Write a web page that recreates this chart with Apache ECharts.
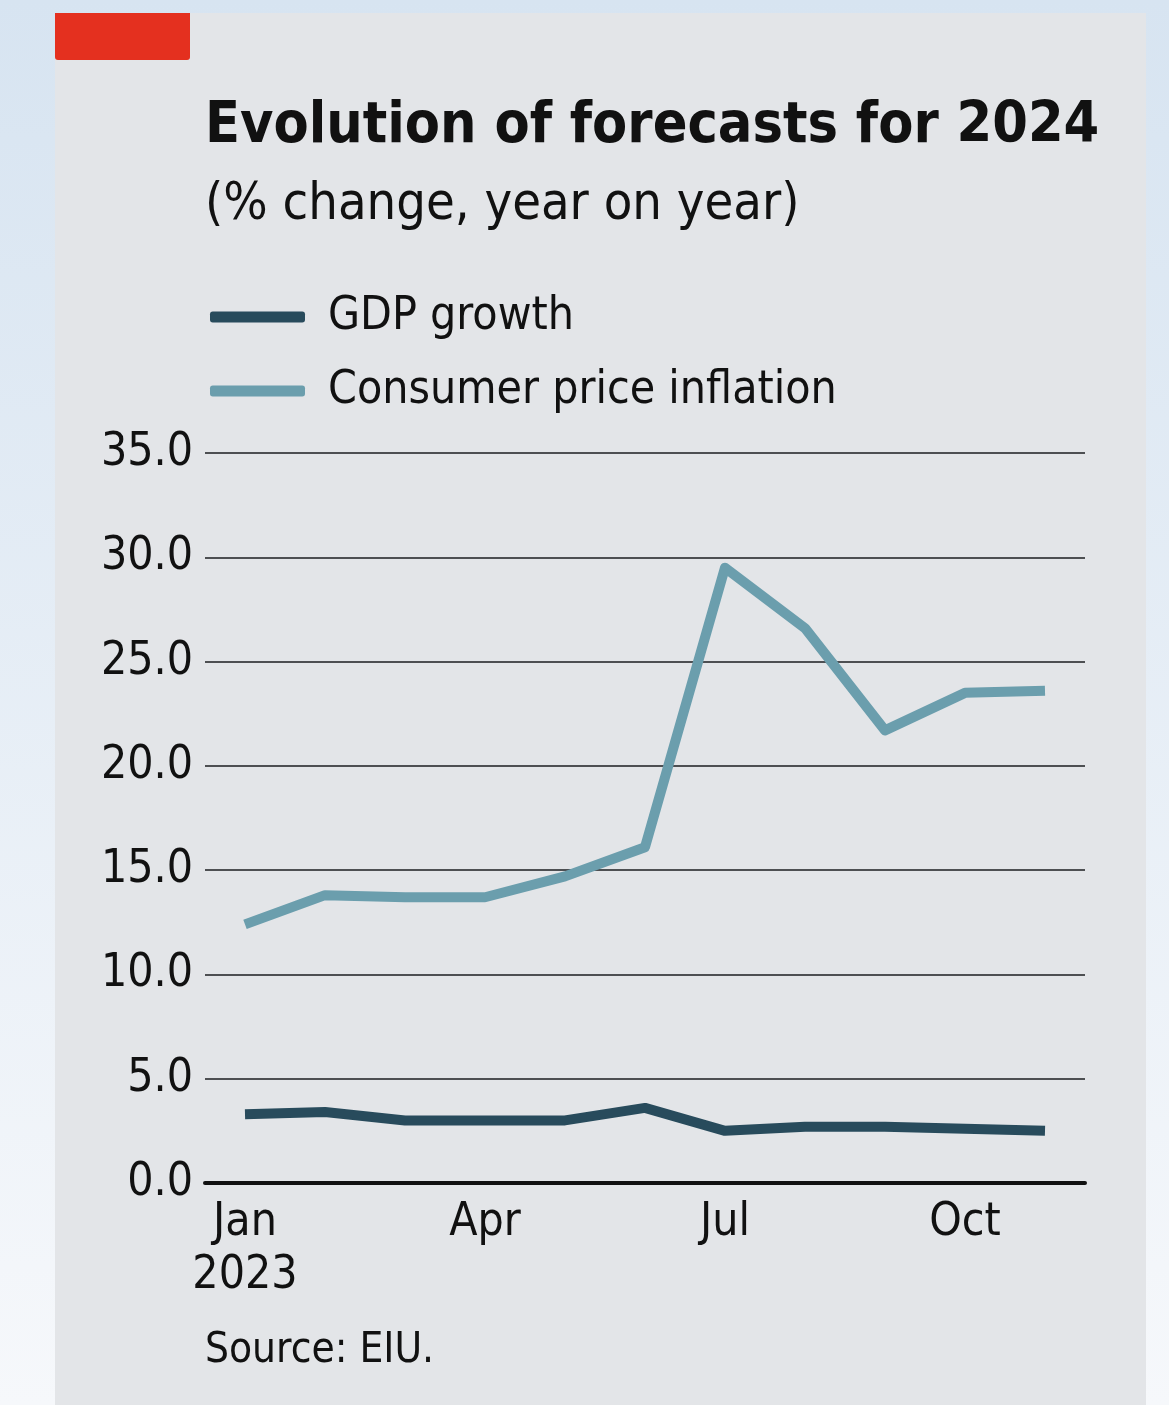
<!DOCTYPE html>
<html>
<head>
<meta charset="utf-8">
<script src="https://cdn.jsdelivr.net/npm/echarts@6/dist/echarts.min.js"></script>
<style>
  html, body { margin: 0; padding: 0; }
  #chart { width: 1169px; height: 1405px; }
</style>
</head>
<body>
<div id="chart"></div>
<script>
// Monthly forecast vintages, Jan-Nov 2023
const months = ['Jan\n2023', 'Feb', 'Mar', 'Apr', 'May', 'Jun', 'Jul', 'Aug', 'Sep', 'Oct', 'Nov'];
const gdpGrowth = [3.3, 3.4, 3.0, 3.0, 3.0, 3.6, 2.5, 2.7, 2.7, 2.6, 2.5];
const consumerPrices = [12.4, 13.8, 13.7, 13.7, 14.7, 16.1, 29.5, 26.6, 21.7, 23.5, 23.6];
const yTicks = [0, 5, 10, 15, 20, 25, 30, 35];

const FONT = '"DejaVu Sans Condensed", "DejaVu Sans", sans-serif';

const chart = echarts.init(document.getElementById('chart'), null, { renderer: 'canvas' });

chart.setOption({
  backgroundColor: 'transparent',
  animation: false,
  graphic: [
    {
      type: 'rect', z: -10, silent: true,
      shape: { x: 0, y: 0, width: 1169, height: 1405 },
      style: {
        fill: new echarts.graphic.LinearGradient(0, 0, 0, 1, [
          { offset: 0, color: '#d7e4f1' },
          { offset: 1, color: '#f6f8fb' }
        ])
      }
    },
    {
      type: 'rect', z: -9, silent: true,
      shape: { x: 55, y: 13, width: 1091, height: 1400 },
      style: { fill: '#e3e5e8' }
    },
    {
      type: 'rect', z: -8, silent: true,
      shape: { x: 55, y: 13, width: 135, height: 47, r: [0, 0, 3, 3] },
      style: { fill: '#e4301f' }
    },
    {
      type: 'text', left: 205, top: 99,
      style: { text: 'Evolution of forecasts for 2024', font: 'bold 57px ' + FONT, fill: '#111' }
    },
    {
      type: 'text', left: 205, top: 179,
      style: { text: '(% change, year on year)', font: '52px ' + FONT, fill: '#111' }
    },
    {
      type: 'text', left: 205, top: 1330,
      style: { text: 'Source: EIU.', font: '42px ' + FONT, fill: '#111' }
    }
  ],
  legend: {
    orient: 'vertical',
    left: 210,
    top: 294,
    padding: 0,
    itemWidth: 95,
    itemHeight: 11,
    itemGap: 28,
    icon: 'roundRect',
    textStyle: {
      fontFamily: FONT,
      fontSize: 46,
      lineHeight: 46,
      color: '#111',
      padding: [0, 0, 0, 18]
    },
    data: ['GDP growth', 'Consumer price inflation']
  },
  grid: { left: 205, right: 84, top: 453, bottom: 222, containLabel: false },
  xAxis: {
    type: 'category',
    data: months,
    boundaryGap: true,
    axisLine: { lineStyle: { color: '#111', width: 4 } },
    axisTick: { show: false },
    axisLabel: {
      interval: 2,
      margin: 14,
      fontFamily: FONT,
      fontSize: 46,
      lineHeight: 53,
      color: '#111'
    },
    splitLine: { show: false }
  },
  yAxis: {
    type: 'value',
    min: yTicks[0],
    max: yTicks[yTicks.length - 1],
    interval: 5,
    axisLine: { show: false },
    axisTick: { show: false },
    axisLabel: {
      margin: 12,
      fontFamily: FONT,
      fontSize: 46,
      color: '#111',
      formatter: v => v.toFixed(1)
    },
    splitLine: { lineStyle: { color: '#4d4f52', width: 2 } }
  },
  series: [
    {
      name: 'GDP growth',
      type: 'line',
      data: gdpGrowth,
      showSymbol: false,
      symbol: 'none',
      color: '#284b5c',
      lineStyle: { width: 10, color: '#284b5c', join: 'round' },
      z: 3
    },
    {
      name: 'Consumer price inflation',
      type: 'line',
      data: consumerPrices,
      showSymbol: false,
      symbol: 'none',
      color: '#6b9ead',
      lineStyle: { width: 10, color: '#6b9ead', join: 'round' },
      z: 2
    }
  ]
});
</script>
</body>
</html>
